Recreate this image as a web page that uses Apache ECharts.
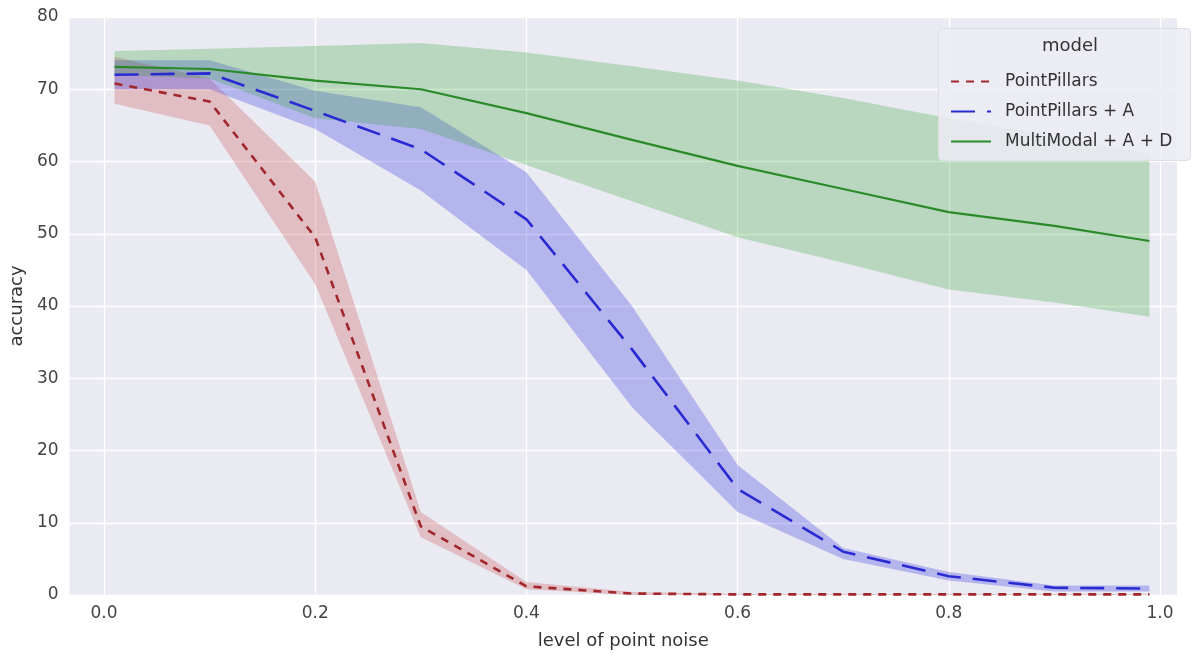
<!DOCTYPE html>
<html>
<head>
<meta charset="utf-8">
<script src="https://cdn.jsdelivr.net/npm/echarts@6/dist/echarts.min.js"></script>
<style>
html,body{margin:0;padding:0;background:#fff;}
#chart{width:1194px;height:655px;}
</style>
</head>
<body>
<div id="chart"></div>
<script>
const noise = [0.01, 0.1, 0.2, 0.3, 0.4, 0.5, 0.6, 0.7, 0.8, 0.9, 0.99];
const xTicks = [0.0, 0.2, 0.4, 0.6, 0.8, 1.0];
const yTicks = [0, 10, 20, 30, 40, 50, 60, 70, 80];

const ppMean = [70.8, 68.3, 49.5, 9.5, 1.2, 0.2, 0.08, 0.08, 0.08, 0.08, 0.08];
const ppLow  = [68.0, 65.0, 43.0, 8.0, 0.8, 0.0, 0.0, 0.0, 0.0, 0.0, 0.0];
const ppHigh = [74.5, 71.5, 57.2, 11.5, 1.8, 0.4, 0.15, 0.15, 0.15, 0.15, 0.15];

const ppaMean = [72.0, 72.2, 67.0, 61.7, 52.0, 34.0, 14.7, 6.0, 2.6, 1.0, 0.9];
const ppaLow  = [70.0, 70.0, 64.5, 56.0, 45.0, 26.0, 11.5, 5.0, 2.0, 0.5, 0.5];
const ppaHigh = [74.0, 74.0, 69.8, 67.5, 58.5, 40.0, 18.0, 6.5, 3.2, 1.3, 1.3];

const mmMean = [73.1, 72.8, 71.2, 70.0, 66.7, 63.0, 59.4, 56.2, 53.0, 51.1, 49.0];
const mmLow  = [72.0, 71.5, 66.0, 64.5, 59.5, 54.5, 49.5, 46.0, 42.3, 40.5, 38.5];
const mmHigh = [75.3, 75.6, 76.0, 76.4, 75.1, 73.2, 71.2, 68.8, 66.0, 63.5, 61.0];

const names = ['PointPillars', 'PointPillars + A', 'MultiModal + A + D'];

function pairs(ys){ return noise.map((x,i)=>[x, ys[i]]); }

function band(lo, hi, color){
  const data = noise.map((x,i)=>[x, lo[i], hi[i]]);
  return {
    type:'custom', xAxisIndex:1, yAxisIndex:1, silent:true, z:1,
    data: data,
    encode:{x:0, y:[1,2]},
    renderItem: function(params, api){
      if (params.dataIndex !== 0) return null;
      const top = [], bot = [];
      for (let i = 0; i < data.length; i++){
        top.push(api.coord([data[i][0], data[i][2]]));
        bot.push(api.coord([data[i][0], data[i][1]]));
      }
      return {type:'polygon', shape:{points: top.concat(bot.reverse())},
              style:{fill: color}};
    }
  };
}

const chart = echarts.init(document.getElementById('chart'), null, {renderer:'canvas'});
const font = 'DejaVu Sans';
const option = {
  animation:false,
  backgroundColor:'#ffffff',
  grid:[
    {left:64, right:17, top:17, bottom:60, show:true, backgroundColor:'#eaeaf2', borderWidth:0},
    {left:104, right:34, top:17, bottom:60, show:false}
  ],
  xAxis:[
    {type:'value', gridIndex:0, min:0, max:1, name:'level of point noise', nameLocation:'middle', nameGap:37,
     nameTextStyle:{fontFamily:font, fontSize:18, color:'#333'},
     axisLine:{show:false}, axisTick:{show:false}, axisLabel:{show:false}, splitLine:{show:false}},
    {type:'value', gridIndex:1, min:0, max:1, interval:0.2,
     axisLine:{show:false}, axisTick:{show:false},
     axisLabel:{fontFamily:font, fontSize:17, color:'#444', margin:10, formatter:v=>v.toFixed(1),
       customValues: xTicks},
     splitLine:{show:true, lineStyle:{color:'#ffffff', width:1.3}}}
  ],
  yAxis:[
    {type:'value', gridIndex:0, min:0, max:80, interval:10, name:'accuracy', nameLocation:'middle', nameGap:38,
     nameTextStyle:{fontFamily:font, fontSize:18, color:'#333'},
     axisLine:{show:false}, axisTick:{show:false},
     axisLabel:{fontFamily:font, fontSize:17, color:'#444', margin:11, customValues: yTicks},
     splitLine:{show:true, lineStyle:{color:'#ffffff', width:1.3}}},
    {type:'value', gridIndex:1, min:0, max:80, show:false, splitLine:{show:false}}
  ],
  legend:{
    data:names.map(n=>({name:n})),
    orient:'vertical', left:945, top:68, itemWidth:40, itemHeight:14, itemGap:13,
    textStyle:{fontFamily:font, fontSize:17, color:'#333', padding:[0,0,0,9]},
    itemStyle:{opacity:0},
    z:110
  },
  graphic:[
    {type:'rect', left:938, top:28, z:100, silent:true,
     shape:{width:252, height:132, r:4},
     style:{fill:'rgba(236,236,244,0.85)', stroke:'#dedee6', lineWidth:1}},
    {type:'text', left:1042, top:37, z:101, silent:true,
     style:{text:'model', font:'18px "DejaVu Sans"', fill:'#333'}}
  ],
  series:[
    band(ppLow, ppHigh, 'rgba(200,60,60,0.25)'),
    band(ppaLow, ppaHigh, 'rgba(60,60,230,0.3)'),
    band(mmLow, mmHigh, 'rgba(40,160,40,0.25)'),
    {name:names[0], type:'line', xAxisIndex:1, yAxisIndex:1, data:pairs(ppMean), symbol:'none',
     lineStyle:{color:'#a0282c', width:2.6, type:[8,7]}, itemStyle:{color:'#a0282c'}, z:5},
    {name:names[1], type:'line', xAxisIndex:1, yAxisIndex:1, data:pairs(ppaMean), symbol:'none',
     lineStyle:{color:'#2a2ad2', width:2.6, type:[24,12]}, itemStyle:{color:'#2a2ad2'}, z:5},
    {name:names[2], type:'line', xAxisIndex:1, yAxisIndex:1, data:pairs(mmMean), symbol:'none',
     lineStyle:{color:'#2a8a2a', width:2.2}, itemStyle:{color:'#2a8a2a'}, z:5}
  ]
};
chart.setOption(option);
</script>
</body>
</html>
